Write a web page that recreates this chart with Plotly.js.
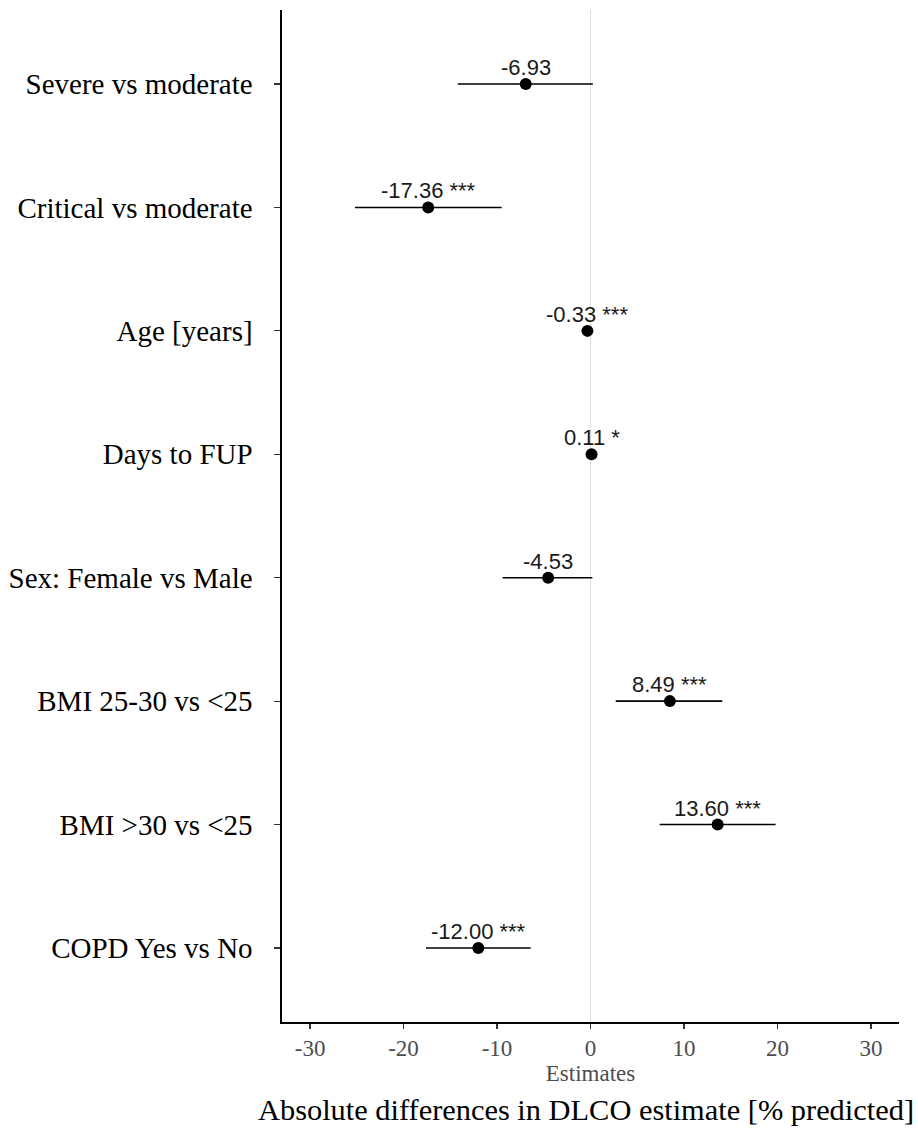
<!DOCTYPE html>
<html>
<head>
<meta charset="utf-8">
<script src="https://cdn.plot.ly/plotly-3.0.1.min.js"></script>
<style>html,body{margin:0;padding:0;background:#fff;}#chart{width:918px;height:1134px;}</style>
</head>
<body>
<div id="chart"></div>
<script>
const categories = ["Severe vs moderate", "Critical vs moderate", "Age [years]", "Days to FUP",
  "Sex: Female vs Male", "BMI 25-30 vs <25", "BMI >30 vs <25", "COPD Yes vs No"];
const estimates = [-6.93, -17.36, -0.33, 0.11, -4.53, 8.49, 13.60, -12.00];
const ciLower = [-14.2, -25.2, -0.50, 0.02, -9.4, 2.7, 7.4, -17.6];
const ciUpper = [0.25, -9.5, -0.16, 0.20, 0.2, 14.1, 19.8, -6.4];
const stars = ["", "***", "***", "*", "", "***", "***", "***"];
const xTicks = [-30, -20, -10, 0, 10, 20, 30];

const labels = estimates.map((v, i) => v.toFixed(2) + (stars[i] ? " " + stars[i] : ""));

const trace = {
  type: "scatter",
  mode: "markers",
  x: estimates,
  y: categories,
  marker: {color: "#000", size: 12},
  error_x: {
    type: "data", symmetric: false,
    array: estimates.map((v, i) => ciUpper[i] - v),
    arrayminus: estimates.map((v, i) => v - ciLower[i]),
    color: "#000", thickness: 1.6, width: 0
  },
  hoverinfo: "none",
  showlegend: false
};

const annotations = labels.map((t, i) => ({
  x: estimates[i], y: categories[i], xref: "x", yref: "y",
  text: t, showarrow: false, xanchor: "center", yanchor: "bottom", yshift: 2,
  font: {family: "Liberation Sans, Arial, sans-serif", size: 22, color: "#1a1a1a"}
}));
annotations.push({
  xref: "paper", yref: "paper", x: 1.028, y: 0, xanchor: "right", yanchor: "middle",
  yshift: -88, showarrow: false,
  text: "Absolute differences in DLCO estimate [% predicted]",
  font: {family: "Liberation Serif, Times New Roman, serif", size: 30.4, color: "#000"}
});

const layout = {
  width: 918, height: 1134,
  margin: {l: 282, r: 19, t: 10, b: 112},
  paper_bgcolor: "#fff", plot_bgcolor: "#fff",
  xaxis: {
    range: [-33, 33],
    tickvals: xTicks,
    ticktext: xTicks.map(String),
    showgrid: false,
    zeroline: true, zerolinecolor: "#dedede", zerolinewidth: 1.2,
    showline: true, linecolor: "#000", linewidth: 1.6,
    ticks: "outside", ticklen: 5, tickcolor: "#333", tickwidth: 1.2,
    tickfont: {family: "Liberation Serif, Times New Roman, serif", size: 23, color: "#4d4d4d"},
    title: {text: "Estimates", standoff: 0,
      font: {family: "Liberation Serif, Times New Roman, serif", size: 23, color: "#4d4d4d"}},
    fixedrange: true
  },
  yaxis: {
    type: "category",
    categoryorder: "array", categoryarray: categories,
    range: [7.6, -0.6],
    showgrid: false, zeroline: false,
    showline: true, linecolor: "#000", linewidth: 1.6,
    ticks: "outside", ticklen: 6, tickcolor: "#333", tickwidth: 1.2,
    ticklabelstandoff: 16,
    tickfont: {family: "Liberation Serif, Times New Roman, serif", size: 29, color: "#000"},
    fixedrange: true
  },
  annotations: annotations
};

Plotly.newPlot("chart", [trace], layout, {displayModeBar: false, staticPlot: true});
</script>
</body>
</html>
